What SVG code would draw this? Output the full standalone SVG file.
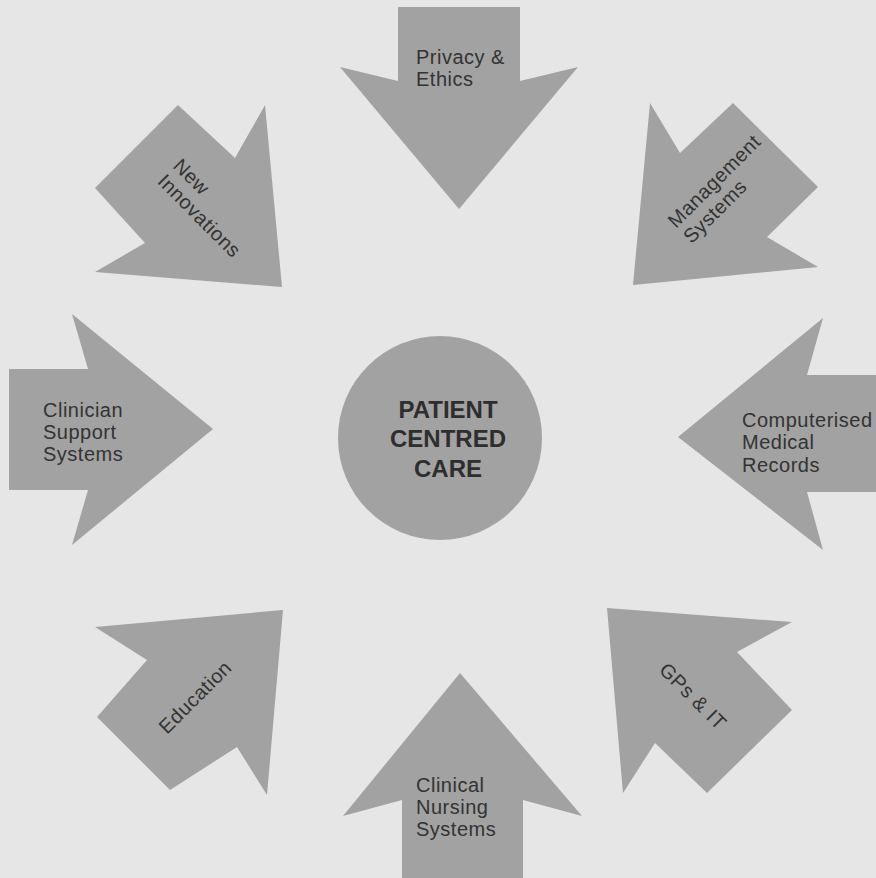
<svg xmlns="http://www.w3.org/2000/svg" width="876" height="878" viewBox="0 0 876 878">
<style>
.bg{fill:#e6e6e6}
.shape{fill:#a2a2a2}
.lbl{font-family:"Liberation Sans",Arial,Helvetica,sans-serif;font-size:20px;fill:#333;letter-spacing:0.5px}
.ctr{font-family:"Liberation Sans",Arial,Helvetica,sans-serif;font-size:24px;font-weight:bold;fill:#2e2e2e;text-anchor:middle}
</style>
<rect class="bg" x="0" y="0" width="876" height="878"/>

<g id="center">
<circle class="shape" cx="440" cy="438" r="102"/>
<text class="ctr" x="448" y="418">PATIENT</text>
<text class="ctr" x="448" y="447">CENTRED</text>
<text class="ctr" x="448" y="477">CARE</text>
</g>

<g id="privacy-ethics">
<polygon class="shape" points="398,7 520,7 520,81 578,67 459,209 340,67 398,81"/>
<text class="lbl" x="416" y="64">Privacy &amp;</text>
<text class="lbl" x="416" y="86">Ethics</text>
</g>

<g id="management-systems">
<polygon class="shape" points="650,103 680,153 733,103 818,187 767,237 818,267 633,285"/>
<g transform="translate(676,229) rotate(-45)">
<text class="lbl" x="0" y="0">Management</text>
<text class="lbl" x="0" y="22">Systems</text>
</g>
</g>

<g id="computerised-medical-records">
<polygon class="shape" points="876,375 807,375 823,318 678,437 823,550 807,492 876,492"/>
<text class="lbl" x="742" y="427">Computerised</text>
<text class="lbl" x="742" y="449">Medical</text>
<text class="lbl" x="742" y="472">Records</text>
</g>

<g id="gps-it">
<polygon class="shape" points="607,608 792,622 737,652 792,710 707,793 655,743 623,793"/>
<g transform="translate(658,671) rotate(45)">
<text class="lbl" x="0" y="0">GPs &amp; IT</text>
</g>
</g>

<g id="clinical-nursing-systems">
<polygon class="shape" points="402,878 402,800 343,816 460,673 582,816 523,800 523,878"/>
<text class="lbl" x="416" y="792">Clinical</text>
<text class="lbl" x="416" y="814">Nursing</text>
<text class="lbl" x="416" y="836">Systems</text>
</g>

<g id="education">
<polygon class="shape" points="283,610 95,627 147,660 97,717 170,790 237,747 267,795"/>
<g transform="translate(167,735) rotate(-45)">
<text class="lbl" x="0" y="0">Education</text>
</g>
</g>

<g id="clinician-support-systems">
<polygon class="shape" points="9,369 88,369 72,314 213,429 72,545 88,490 9,490"/>
<text class="lbl" x="43" y="417">Clinician</text>
<text class="lbl" x="43" y="439">Support</text>
<text class="lbl" x="43" y="461">Systems</text>
</g>

<g id="new-innovations">
<polygon class="shape" points="178,105 235,158 265,105 282,287 95,272 145,243 95,188"/>
<g transform="translate(172,167) rotate(45)">
<text class="lbl" x="0" y="0">New</text>
<text class="lbl" x="0" y="22">Innovations</text>
</g>
</g>
</svg>
